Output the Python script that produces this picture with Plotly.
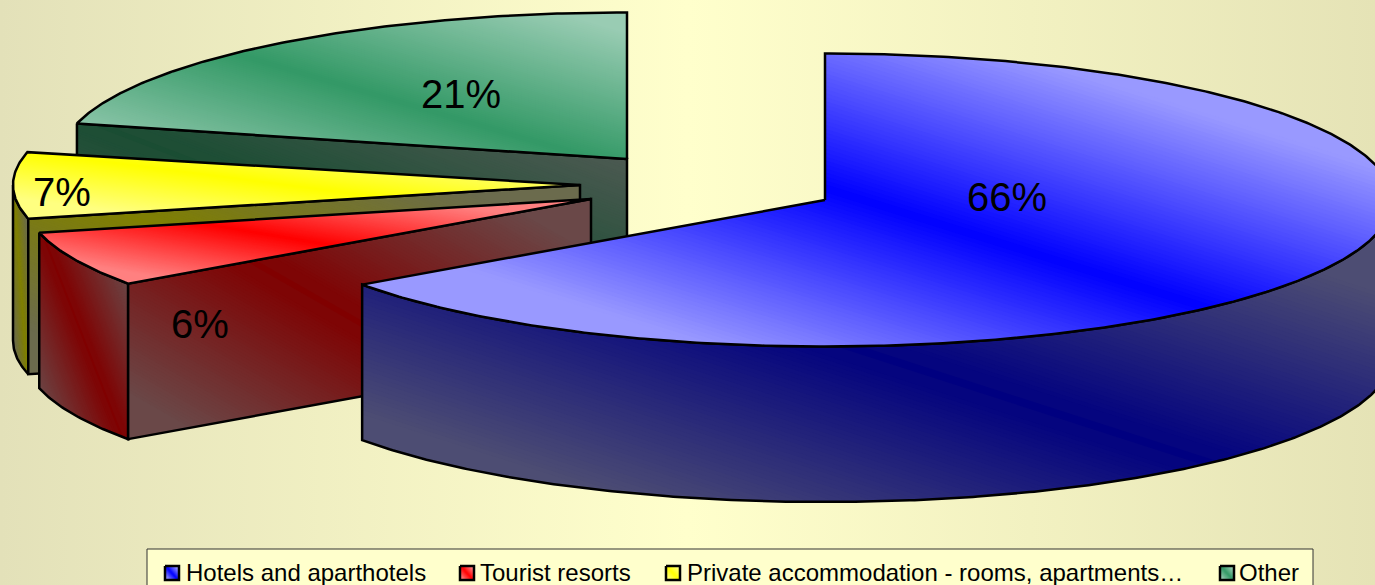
import numpy as np
import plotly.graph_objects as go

# ---- data ----
CATEGORIES = ["Hotels and aparthotels", "Tourist resorts",
              "Private accommodation - rooms, apartments…", "Other"]
SHARES = [65.2, 6.1, 7.3, 21.1]
PERCENT_LABELS = ["66%", "6%", "7%", "21%"]

# ---- styling / layout ----
W, H = 1375, 585
RX, RY, DEPTH = 567, 146.5, 155.5
CENTRES = [(825, 200), (591, 199), (580, 185), (627, 159)]
LABEL_POS = [(1007, 197), (200, 324), (62, 192), (461, 94)]
TOP_BASE = [(0, 0, 255), (255, 0, 0), (255, 255, 0), (51, 153, 102)]
TOP_LIGHT = [(153, 153, 255), (255, 128, 128), (255, 255, 128), (153, 204, 179)]
SIDE_BASE = [(0, 0, 128), (128, 0, 0), (128, 128, 0), (26, 77, 51)]
SIDE_LIGHT = [(77, 77, 115), (106, 72, 72), (107, 107, 77), (77, 90, 82)]
TOP_CLAMP = [0.66, 0.72, 0.72, 0.93]
SIDE_CLAMP = [0.75, 0.85, 0.8, 0.9]
LEGEND_SWATCH_X = [164, 459, 665, 1219]
LEGEND_TEXT_X = [184, 478, 685, 1237]
SKEW = 1.1
SHIFT = 0.015

traces = []


def clip_halfplane(pts, fn):
    out = []
    n = len(pts)
    for i in range(n):
        a, b = pts[i], pts[(i + 1) % n]
        fa, fb = fn(a), fn(b)
        if fa >= 0:
            out.append(a)
        if (fa >= 0) != (fb >= 0):
            t = fa / (fa - fb)
            out.append((a[0] + t * (b[0] - a[0]), a[1] + t * (b[1] - a[1])))
    return out


def solid(pts, rgb):
    xs = [p[0] for p in pts]
    ys = [p[1] for p in pts]
    traces.append(go.Scatter(x=xs + xs[:1], y=ys + ys[:1], mode="lines", fill="toself",
                             fillcolor="rgb(%d,%d,%d)" % rgb, line=dict(width=0),
                             hoverinfo="skip", showlegend=False))


def gradient_poly(pts, base, light, clamp, outline=2.5, stripe=False, steps=170):
    xs = np.array([p[0] for p in pts], float)
    ys = np.array([p[1] for p in pts], float)
    x0, x1, y0, y1 = xs.min(), xs.max(), ys.min(), ys.max()
    w, h = max(x1 - x0, 1e-6), max(y1 - y0, 1e-6)
    sval = lambda p: SKEW * ((p[0] - x0) / w - 0.5) - ((p[1] - y0) / h - 0.5 - SHIFT)

    def colour(s):
        f = min(abs(s) / clamp, 1.0)
        if stripe:
            f = 0.0 if abs(s) < 0.018 else max(f, 0.07)
        return tuple(int(round(base[i] + f * (light[i] - base[i]))) for i in range(3))

    levels = np.linspace(-1.15, 1.15, steps + 1)
    dl = levels[1] - levels[0]
    solid(pts, colour(-1.15))
    last = colour(-1.15)
    for lv in levels[:-1]:
        c = colour(lv + dl / 2)
        if c == last:
            continue
        part = clip_halfplane(pts, lambda p, lv=lv: sval(p) - lv)
        if len(part) >= 3:
            solid(part, c)
        last = c
    if outline:
        traces.append(go.Scatter(x=list(xs) + [xs[0]], y=list(ys) + [ys[0]], mode="lines",
                                 line=dict(color="#000000", width=outline),
                                 hoverinfo="skip", showlegend=False))


def rim(c, deg):
    t = np.radians(deg)
    return (c[0] + RX * np.sin(t), c[1] - RY * np.cos(t))


def arc(c, a, b, dy=0.0):
    n = max(int(abs(b - a)) * 2, 2)
    return [(rim(c, d)[0], rim(c, d)[1] + dy) for d in np.linspace(a, b, n + 1)]


def drop(p):
    return (p[0], p[1] + DEPTH)


def wall(a, b):
    return [a, b, drop(b), drop(a)]


# background gradient
traces.append(go.Scatter(x=[0, W, W, 0, 0], y=[0, 0, H, H, 0], mode="lines", fill="toself",
                         line=dict(width=0), hoverinfo="skip", showlegend=False,
                         fillgradient=dict(type="horizontal",
                                           colorscale=[[0, "#E3E1B9"], [0.5, "#FFFFCC"],
                                                       [1, "#E5E3B6"]])))

# slices run clockwise from 12 o'clock; "Other" closes the circle at 360 degrees
edges = np.concatenate([[0], np.cumsum(SHARES)]) * 3.6
span = {i: (edges[i], edges[i + 1]) for i in range(3)}
span[3] = (360 - SHARES[3] * 3.6, 360)
BLUE, RED, YELLOW, GREEN = 0, 1, 2, 3


def top(i):
    c = CENTRES[i]
    return [c] + arc(c, *span[i])


def paint_top(i):
    gradient_poly(top(i), TOP_BASE[i], TOP_LIGHT[i], TOP_CLAMP[i])


def paint_side(i, pts):
    gradient_poly(pts, SIDE_BASE[i], SIDE_LIGHT[i], SIDE_CLAMP[i], stripe=True)


# green: cut wall, then top
c = CENTRES[GREEN]
paint_side(GREEN, wall(rim(c, span[GREEN][0]), c))
paint_top(GREEN)

# yellow: outer rim, cut wall, top
c = CENTRES[YELLOW]
a = span[YELLOW][0]
paint_side(YELLOW, arc(c, a, 270) + arc(c, 270, a, DEPTH))
paint_side(YELLOW, wall(rim(c, a), c))
paint_top(YELLOW)

# red: outer rim, cut wall, top
c = CENTRES[RED]
a, b = span[RED]
paint_side(RED, arc(c, a, b) + arc(c, b, a, DEPTH))
paint_side(RED, wall(rim(c, a), c))
paint_top(RED)

# blue: outer rim, top
c = CENTRES[BLUE]
b = span[BLUE][1]
paint_side(BLUE, arc(c, 90, b) + arc(c, b, 90, DEPTH))
paint_top(BLUE)

# legend box
traces.append(go.Scatter(x=[147, 1313, 1313, 147, 147], y=[549, 549, 600, 600, 549], mode="lines",
                         fill="toself", fillcolor="#FFFFCC", line=dict(color="#333333", width=1),
                         hoverinfo="skip", showlegend=False))
for i in range(4):
    sx = LEGEND_SWATCH_X[i]
    sw = [(sx + 1, 566), (sx + 15, 566), (sx + 15, 580), (sx + 1, 580)]
    gradient_poly(sw, TOP_BASE[i], TOP_LIGHT[i], 0.8, outline=2.5, steps=24)

annotations = []
for (x, y), txt in zip(LABEL_POS, PERCENT_LABELS):
    annotations.append(dict(x=x, y=y, text=txt, showarrow=False, xanchor="center", yanchor="middle",
                            font=dict(family="Liberation Sans", size=40, color="#000000")))
for x, txt in zip(LEGEND_TEXT_X, CATEGORIES):
    annotations.append(dict(x=x, y=572, text=txt, showarrow=False, xanchor="left", yanchor="middle",
                            font=dict(family="Liberation Sans", size=24, color="#000000")))

fig = go.Figure(traces)
fig.update_layout(
    width=W, height=H, margin=dict(l=0, r=0, t=0, b=0),
    paper_bgcolor="#FFFFCC", plot_bgcolor="#FFFFCC", showlegend=False,
    xaxis=dict(range=[0, W], visible=False, fixedrange=True),
    yaxis=dict(range=[H, 0], visible=False, fixedrange=True),
    annotations=annotations, hovermode=False,
)
fig.write_html("out.html", config=dict(displayModeBar=False),
               post_script="document.body.style.margin='0';document.body.style.overflow='hidden';")
